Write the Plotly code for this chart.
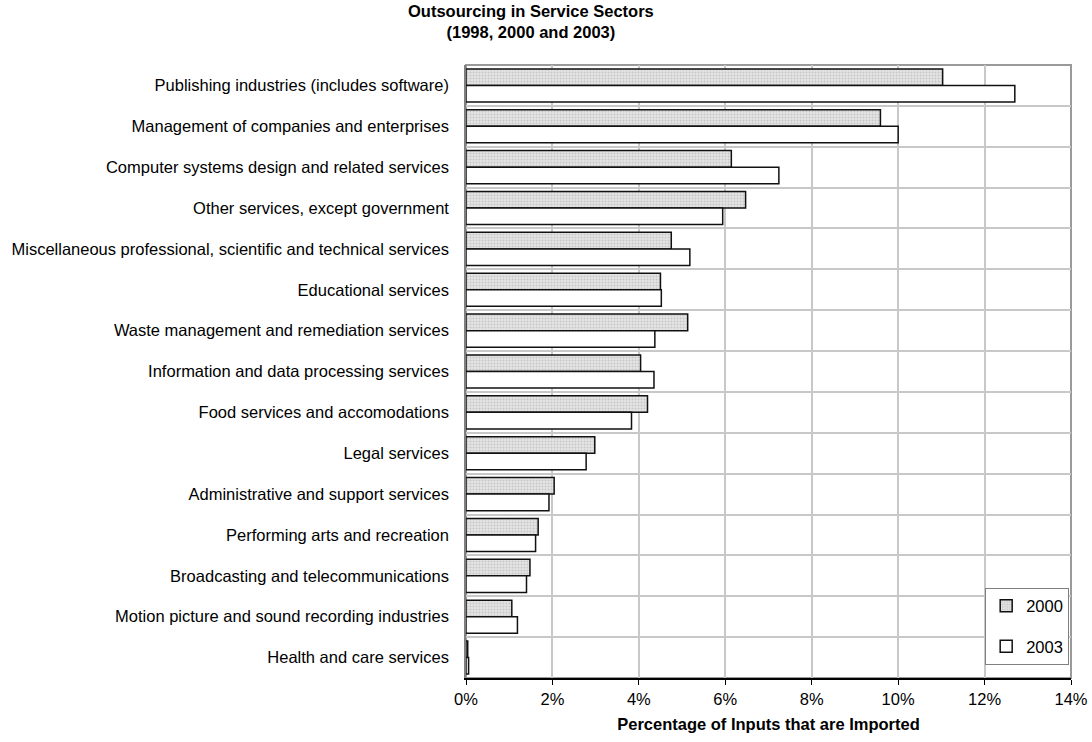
import plotly.graph_objects as go

categories = [
    "Publishing industries (includes software)",
    "Management of companies and enterprises",
    "Computer systems design and related services",
    "Other services, except government",
    "Miscellaneous professional, scientific and technical services",
    "Educational services",
    "Waste management and remediation services",
    "Information and data processing services",
    "Food services and accomodations",
    "Legal services",
    "Administrative and support services",
    "Performing arts and recreation",
    "Broadcasting and telecommunications",
    "Motion picture and sound recording industries",
    "Health and care services",
]
values_2000 = [11.03, 9.59, 6.14, 6.47, 4.75, 4.50, 5.13, 4.04, 4.20, 2.98, 2.04, 1.67, 1.48, 1.06, 0.04]
values_2003 = [12.70, 10.00, 7.24, 5.94, 5.18, 4.52, 4.37, 4.35, 3.83, 2.78, 1.92, 1.61, 1.40, 1.19, 0.06]
x_ticks = [0, 2, 4, 6, 8, 10, 12, 14]
x_tick_labels = ["0%", "2%", "4%", "6%", "8%", "10%", "12%", "14%"]

font_family = "Liberation Sans, Arial, sans-serif"

fig = go.Figure()
fig.add_trace(go.Bar(
    y=categories, x=values_2000, orientation="h", name="2000",
    legendgroup="a",
    marker=dict(
        color="#dedede",
        line=dict(color="#111111", width=1.5),
        pattern=dict(shape=".", fgcolor="#a8a8a8", bgcolor="#e4e4e4", size=3, solidity=0.35),
    ),
))
fig.add_trace(go.Bar(
    y=categories, x=values_2003, orientation="h", name="2003",
    legendgroup="b",
    marker=dict(color="#ffffff", line=dict(color="#111111", width=1.5)),
))

fig.update_layout(
    width=1092, height=742,
    margin=dict(l=466, r=21, t=65, b=64, autoexpand=False),
    paper_bgcolor="white", plot_bgcolor="white",
    barmode="group", bargap=0.19, bargroupgap=0,
    font=dict(family=font_family, size=16.5, color="#000000"),
    showlegend=True,
    legend=dict(
        x=0.997, xanchor="right", y=0.022, yanchor="bottom",
        bordercolor="#808080", borderwidth=1, bgcolor="white",
        font=dict(size=16.5), tracegroupgap=16, itemwidth=30,
    ),
    annotations=[
        dict(text="<b>Outsourcing in Service Sectors<br>(1998, 2000 and 2003)</b>",
             xref="paper", yref="paper", x=(531 - 466) / 605, y=1 + 65 / 613,
             xanchor="center", yanchor="top", showarrow=False,
             font=dict(size=16.5, family=font_family)),
    ],
    shapes=[
        dict(type="rect", xref="paper", yref="paper", x0=0, x1=1, y0=0, y1=1,
             line=dict(color="#9a9a9a", width=2), layer="below"),
    ],
)

fig.update_xaxes(
    range=[0, 14], tickvals=x_ticks, ticktext=x_tick_labels,
    showgrid=True, gridcolor="#c8c8c8", gridwidth=1.5,
    showline=True, linecolor="#000000", linewidth=1.5,
    ticks="outside", ticklen=5, tickcolor="#000000",
    tickfont=dict(size=16.5),
    zeroline=False, automargin=False,
    title=dict(text="<b>Percentage of Inputs that are Imported</b>", font=dict(size=16.5), standoff=12),
)
fig.update_yaxes(
    type="category", autorange="reversed",
    tickson="boundaries", showgrid=True, gridcolor="#c8c8c8", gridwidth=1.5,
    showline=True, linecolor="#808080", linewidth=1.5,
    ticks="", ticklabelstandoff=12, automargin=False,
    tickfont=dict(size=16.5),
)

fig.write_html("out.html")
